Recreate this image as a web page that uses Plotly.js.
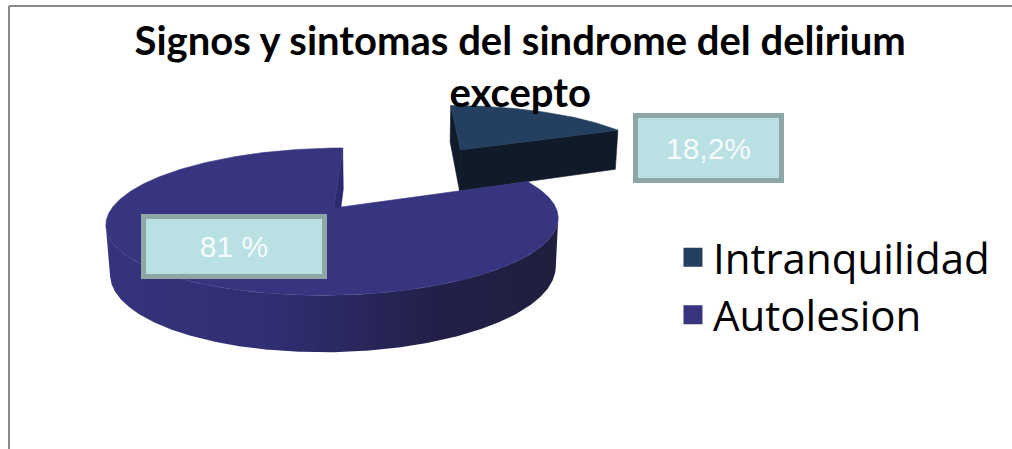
<!DOCTYPE html>
<html>
<head>
<meta charset="utf-8">
<script src="https://cdn.plot.ly/plotly-3.0.1.min.js"></script>
<style>
  html, body { margin: 0; padding: 0; background: #ffffff; }
  #chart { width: 1012px; height: 449px; }
</style>
</head>
<body>
<div id="chart"></div>
<script>
// Pie data
const categories = ['Intranquilidad', 'Autolesion'];
const values = [18.2, 81];
const dataLabels = ['18,2%', '81 %'];

// Slice styling
const topColors = ['#243f5f', '#37357f'];
const wallColors = ['#111a28', '#2b2970'];
const sideScales = [
  [[0, '#1a2c44'], [1, '#0f1724']],
  [[0, '#35337c'], [0.35, '#312f73'], [0.72, '#22204a'], [1, '#1f1e3d']]
];
const explodeBy = [1.15, 0];

// Simple perspective camera for the tilted 3-D pie (pixel space)
const cam = { cx: 389.5, cy: 208, f: 222, dist: 5.1, tilt: 18.7 * Math.PI / 180, offX: 0.25, thick: 0.23 };
const sT = Math.sin(cam.tilt), cT = Math.cos(cam.tilt);
const eye = [cam.offX, cam.dist * sT, -cam.dist * cT];

function project(p) {
  const d = cam.dist + p[2] * cT - p[1] * sT;
  const up = p[1] * cT + p[2] * sT;
  const k = cam.f * cam.dist / d;
  return [cam.cx + (p[0] - cam.offX) * k, cam.cy - up * k];
}
function facing(p, n) {
  return (eye[0] - p[0]) * n[0] + (eye[1] - p[1]) * n[1] + (eye[2] - p[2]) * n[2] > 1e-9;
}
const rad = d => d * Math.PI / 180;

// Angular extent of each slice: first slice starts at 12 o'clock, clockwise
const total = values.reduce((a, b) => a + b, 0);
let cursor = 90;
const slices = values.map((v, i) => {
  const a0 = cursor, a1 = cursor - v / total * 360;
  cursor = a1;
  const mid = rad((a0 + a1) / 2);
  return { i, a0, a1, ox: explodeBy[i] * Math.cos(mid), oz: explodeBy[i] * Math.sin(mid) };
});

function rimPoint(s, deg, y) {
  return [s.ox + Math.cos(rad(deg)), y, s.oz + Math.sin(rad(deg))];
}
function arc(s, from, to, y) {
  const n = Math.max(2, Math.ceil(Math.abs(to - from) / 0.5) + 1);
  const pts = [];
  for (let k = 0; k < n; k++) pts.push(rimPoint(s, from + (to - from) * k / (n - 1), y));
  return pts;
}
function polyTrace(pts3d, style) {
  const xy = pts3d.map(project);
  return Object.assign({
    type: 'scatter', mode: 'lines', fill: 'toself',
    x: xy.map(p => p[0]), y: xy.map(p => p[1]),
    line: { width: 0.6, color: style.fillcolor || 'rgba(0,0,0,0)' },
    hoverinfo: 'skip', showlegend: false
  }, style);
}

const traces = [];
const order = slices.slice().sort((p, q) => q.oz - p.oz);   // far slices first
order.forEach(s => {
  const h = -cam.thick;
  const center = [s.ox, 0, s.oz], centerLow = [s.ox, h, s.oz];

  // outer curved side, only the part turned towards the viewer
  const run = [];
  for (let d = s.a0; d >= s.a1; d -= 0.5) {
    const p = rimPoint(s, d, 0);
    if (facing(p, [Math.cos(rad(d)), 0, Math.sin(rad(d))])) run.push(d);
  }
  if (run.length > 1) {
    const top = run.map(d => rimPoint(s, d, 0));
    const bot = run.slice().reverse().map(d => rimPoint(s, d, h));
    const pts = top.concat(bot);
    pts.push(top[0]);
    const tr = polyTrace(pts, { fillcolor: sideScales[s.i][0][1] });
    tr.fillgradient = { type: 'horizontal', colorscale: sideScales[s.i] };
    tr.line = { width: 0 };
    traces.push(tr);
  }

  // radial walls that face the viewer
  [[s.a0, s.a0 + 90], [s.a1, s.a1 - 90]].forEach(([edge, nd]) => {
    if (facing(center, [Math.cos(rad(nd)), 0, Math.sin(rad(nd))])) {
      const pts = [center, rimPoint(s, edge, 0), rimPoint(s, edge, h), centerLow, center];
      traces.push(polyTrace(pts, { fillcolor: wallColors[s.i] }));
    }
  });

  // top face
  const topPts = [center].concat(arc(s, s.a0, s.a1, 0), [center]);
  traces.push(polyTrace(topPts, { fillcolor: topColors[s.i] }));
});

// Legend entries
categories.forEach((c, i) => {
  traces.push({
    type: 'scatter', mode: 'markers', x: [null], y: [null], name: c,
    marker: { symbol: 'square', size: 16, color: topColors[i], line: { width: 3, color: topColors[i] } },
    hoverinfo: 'skip', showlegend: true
  });
});

// Value boxes
const boxStyle = {
  showarrow: false, xref: 'x', yref: 'y',
  font: { family: 'Liberation Sans, Arial, sans-serif', size: 30, color: '#f6fbfb' },
  bgcolor: '#b9e0e3', bordercolor: '#8da6a6', borderwidth: 5, borderpad: 0
};
const annotations = [
  Object.assign({}, boxStyle, { text: dataLabels[0], x: 708.5, y: 148, width: 141, height: 60 }),
  Object.assign({}, boxStyle, { text: dataLabels[1], x: 234, y: 246.5, width: 176, height: 55 })
];

const layout = {
  width: 1012, height: 449,
  margin: { l: 0, r: 0, t: 0, b: 0 },
  paper_bgcolor: '#ffffff', plot_bgcolor: '#ffffff',
  title: {
    text: 'Signos y sintomas del sindrome del delirium<br>excepto',
    font: { family: 'Lato, sans-serif', size: 40, weight: 'bold', color: '#000000' },
    x: 0.514, xanchor: 'center', xref: 'paper',
    y: 0.878, yanchor: 'top', yref: 'container'
  },
  xaxis: { range: [0, 1012], visible: false, fixedrange: true },
  yaxis: { range: [449, 0], visible: false, fixedrange: true },
  showlegend: true,
  legend: {
    x: 0.665, xanchor: 'left', y: 0.362, yanchor: 'middle',
    font: { family: 'Open Sans, sans-serif', size: 42, color: '#000000' },
    bgcolor: 'rgba(0,0,0,0)', itemclick: false, itemdoubleclick: false
  },
  annotations: annotations,
  shapes: [
    { type: 'line', xref: 'x', yref: 'y', x0: 9, y0: 6, x1: 1012, y1: 6, line: { color: '#898989', width: 2 } },
    { type: 'line', xref: 'x', yref: 'y', x0: 9, y0: 6, x1: 9, y1: 449, line: { color: '#898989', width: 2 } }
  ]
};

Plotly.newPlot('chart', traces, layout, { displayModeBar: false, staticPlot: true });
</script>
</body>
</html>
